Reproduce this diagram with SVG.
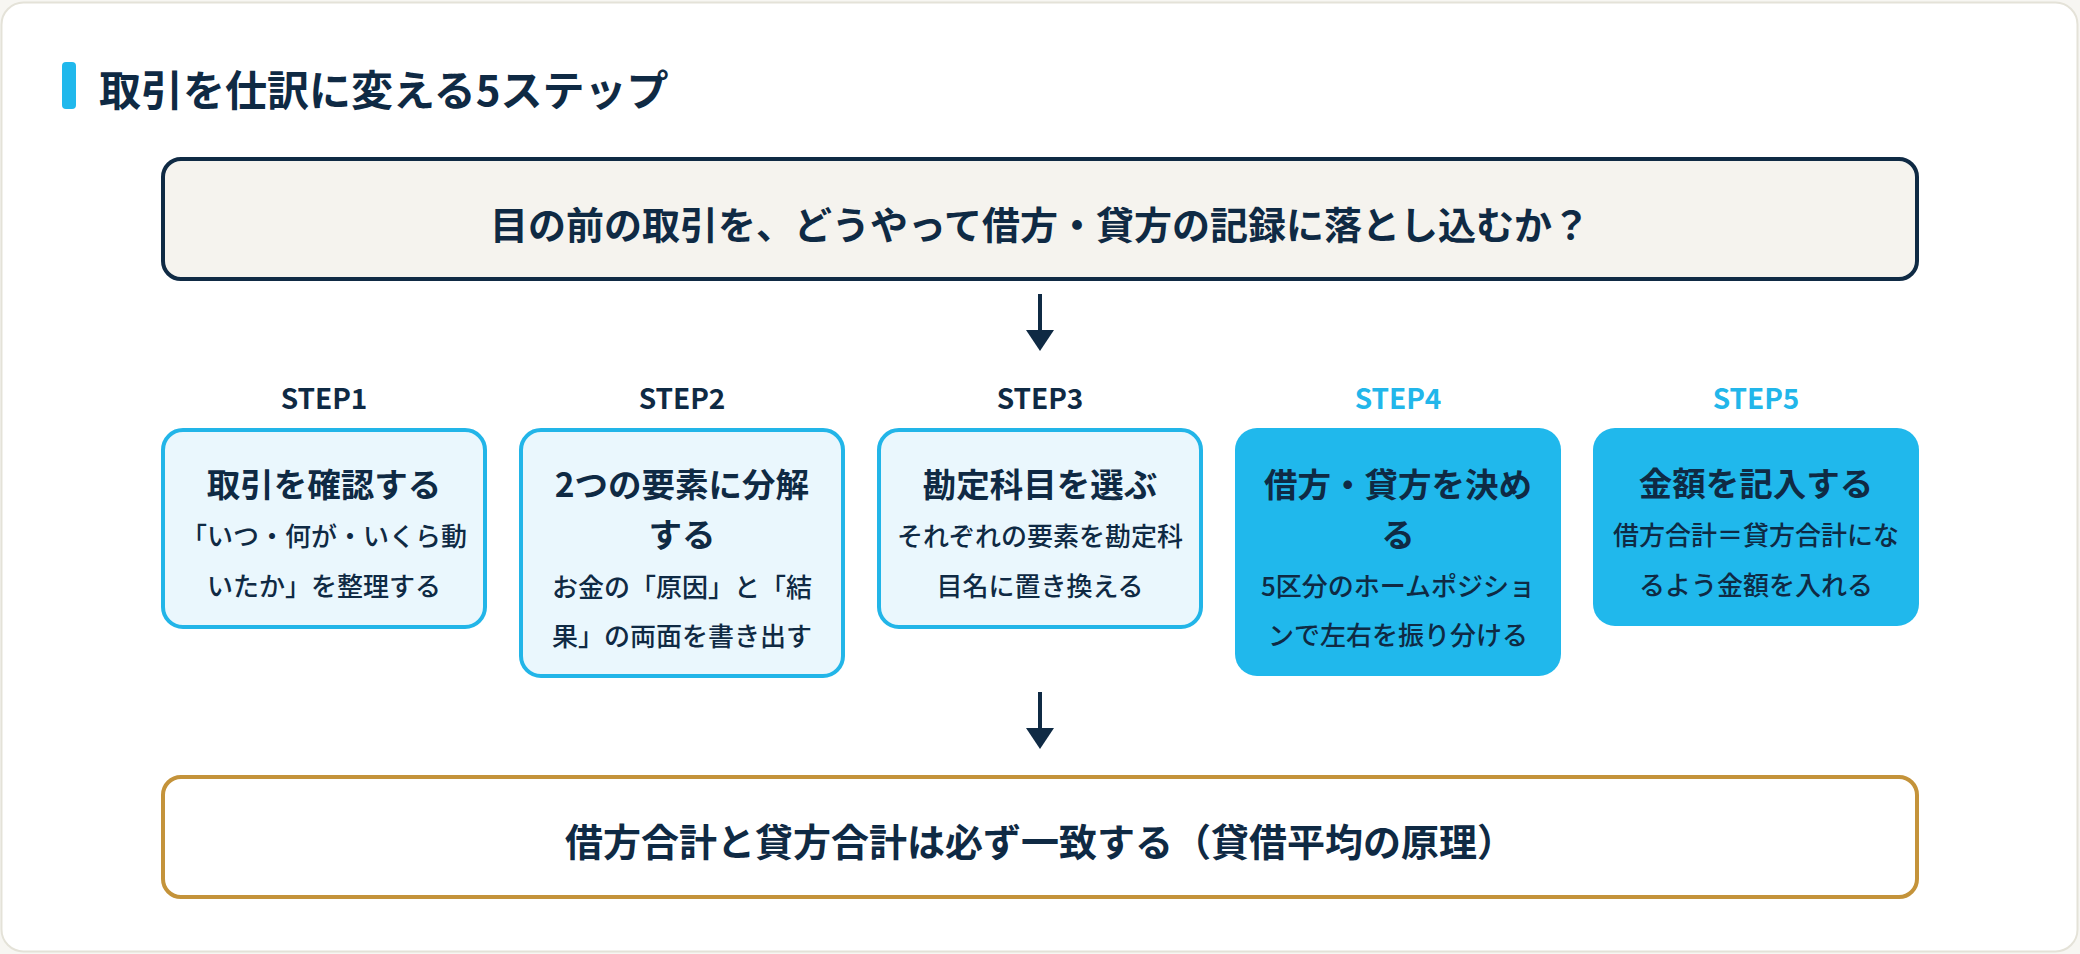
<svg xmlns="http://www.w3.org/2000/svg" width="2080" height="954" viewBox="0 0 2080 954">
<defs>
<style>
text{font-family:"Noto Sans CJK JP","Noto Sans",sans-serif;fill:#0f2a44;text-anchor:middle;dominant-baseline:central}
.h{font-weight:700;font-size:42px;text-anchor:start}
.big{font-weight:700;font-size:38px}
.t{font-weight:700;font-size:33.5px}
.s{font-size:26px;font-weight:500}
.step{font-weight:700;font-size:28px}
.blue{fill:#22b6ea}
.lb{fill:#eaf7fd;stroke:#22b5e8;stroke-width:4}
.db{fill:#20b8ec}
.conn{stroke:#0f2a44;stroke-width:4;fill:none}
</style>
<marker id="ah" viewBox="0 0 21 28" markerWidth="21" markerHeight="28" refX="0" refY="14" orient="auto" markerUnits="userSpaceOnUse">
<path d="M0,0 L21,14 L0,28 Z" fill="#0f2a44"/>
</marker>
</defs>
<rect x="0" y="0" width="2080" height="954" fill="#f7f6f2"/>
<rect x="1.5" y="2.5" width="2076" height="949" rx="22" fill="#ffffff" stroke="#e4e2d8" stroke-width="2"/>
<g id="title">
<rect x="62" y="62" width="14" height="47" rx="4" fill="#20b8ec"/>
<text class="h" x="99" y="87">取引を仕訳に変える5ステップ</text>
</g>
<g id="question">
<rect x="163" y="159" width="1754" height="120" rx="18" fill="#f5f3ee" stroke="#0f2a44" stroke-width="4"/>
<text class="big" x="1040" y="222">目の前の取引を、どうやって借方・貸方の記録に落とし込むか？</text>
</g>
<g id="connectors">
<line class="conn" x1="1040" y1="294" x2="1040" y2="330" marker-end="url(#ah)"/>
<line class="conn" x1="1040" y1="692" x2="1040" y2="728" marker-end="url(#ah)"/>
</g>
<g id="step1">
<text class="step" x="324" y="397">STEP1</text>
<rect class="lb" x="163" y="430" width="322" height="197" rx="20"/>
<text class="t" x="324" y="482">取引を確認する</text>
<text class="s" x="324" y="534">「いつ・何が・いくら動</text>
<text class="s" x="324" y="584">いたか」を整理する</text>
</g>
<g id="step2">
<text class="step" x="682" y="397">STEP2</text>
<rect class="lb" x="521" y="430" width="322" height="246" rx="20"/>
<text class="t" x="682" y="482">2つの要素に分解</text>
<text class="t" x="682" y="532">する</text>
<text class="s" x="682" y="585">お金の「原因」と「結</text>
<text class="s" x="682" y="634">果」の両面を書き出す</text>
</g>
<g id="step3">
<text class="step" x="1040" y="397">STEP3</text>
<rect class="lb" x="879" y="430" width="322" height="197" rx="20"/>
<text class="t" x="1040" y="482">勘定科目を選ぶ</text>
<text class="s" x="1040" y="534">それぞれの要素を勘定科</text>
<text class="s" x="1040" y="584">目名に置き換える</text>
</g>
<g id="step4">
<text class="step blue" x="1398" y="397">STEP4</text>
<rect class="db" x="1235" y="428" width="326" height="248" rx="22"/>
<text class="t" x="1398" y="482">借方・貸方を決め</text>
<text class="t" x="1398" y="532">る</text>
<text class="s" x="1398" y="584">5区分のホームポジショ</text>
<text class="s" x="1398" y="633">ンで左右を振り分ける</text>
</g>
<g id="step5">
<text class="step blue" x="1756" y="397">STEP5</text>
<rect class="db" x="1593" y="428" width="326" height="198" rx="22"/>
<text class="t" x="1756" y="481">金額を記入する</text>
<text class="s" x="1756" y="533">借方合計＝貸方合計にな</text>
<text class="s" x="1756" y="583">るよう金額を入れる</text>
</g>
<g id="conclusion">
<rect x="163" y="777" width="1754" height="120" rx="18" fill="#ffffff" stroke="#c4933a" stroke-width="4"/>
<text class="big" x="1040" y="839">借方合計と貸方合計は必ず一致する（貸借平均の原理）</text>
</g>
</svg>
